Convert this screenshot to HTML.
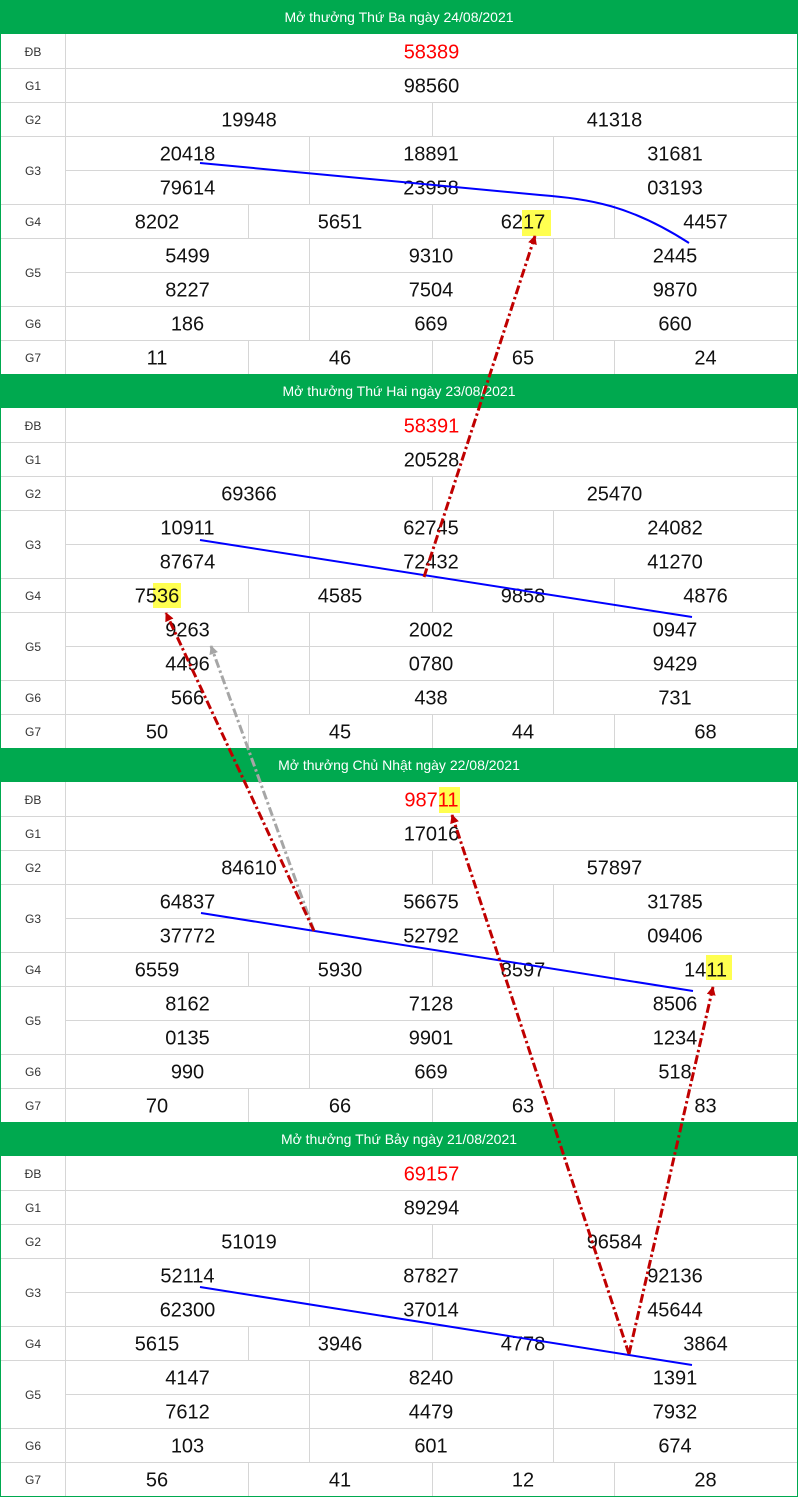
<!DOCTYPE html>
<html>
<head>
<meta charset="utf-8">
<style>
html,body{margin:0;padding:0;background:#fff;}
svg{display:block;}
.h{font-family:"Liberation Sans",sans-serif;font-size:14px;fill:#fff;text-anchor:middle;}
.l{font-family:"Liberation Sans",sans-serif;font-size:12px;fill:#333;text-anchor:middle;}
.n{font-family:"Liberation Sans",sans-serif;font-size:20px;fill:#111;text-anchor:middle;}
.r{fill:#f00;}
.g{fill:none;stroke:#d6d6d6;stroke-width:1;shape-rendering:crispEdges;}
</style>
</head>
<body>
<svg width="798" height="1497" viewBox="0 0 798 1497" xmlns="http://www.w3.org/2000/svg">
<defs>
<g id="grid">
<rect x="0" y="0" width="798" height="34" fill="#00a94f"/>
<path class="g" d="M1 68.5H797 M1 102.5H797 M1 136.5H797 M66 170.5H797 M1 204.5H797 M1 238.5H797 M66 272.5H797 M1 306.5H797 M1 340.5H797 M65.5 34V374 M432.5 102V136 M309.5 136V204 M553.5 136V204 M248.5 204V238 M432.5 204V238 M614.5 204V238 M309.5 238V340 M553.5 238V340 M248.5 340V374 M432.5 340V374 M614.5 340V374"/>
<text class="l" x="33" y="56">ĐB</text>
<text class="l" x="33" y="90">G1</text>
<text class="l" x="33" y="124">G2</text>
<text class="l" x="33" y="175">G3</text>
<text class="l" x="33" y="226">G4</text>
<text class="l" x="33" y="277">G5</text>
<text class="l" x="33" y="328">G6</text>
<text class="l" x="33" y="362">G7</text>
</g>
<marker id="ar" viewBox="0 0 10 10" refX="9" refY="5" markerWidth="3" markerHeight="3" orient="auto" markerUnits="strokeWidth">
<path d="M0,0 L10,5 L0,10 z" fill="#c00000"/>
</marker>
<marker id="ag" viewBox="0 0 10 10" refX="9" refY="5" markerWidth="3" markerHeight="3" orient="auto" markerUnits="strokeWidth">
<path d="M0,0 L10,5 L0,10 z" fill="#a6a6a6"/>
</marker>
</defs>

<!-- Table 1 -->
<g transform="translate(0,0)">
<use href="#grid"/>
<rect x="522" y="210" width="29" height="26" fill="#ffff50"/>
<text class="h" x="399" y="22">Mở thưởng Thứ Ba ngày 24/08/2021</text>
<text class="n r" x="431.5" y="58.5">58389</text>
<text class="n" x="431.5" y="92.5">98560</text>
<text class="n" x="249" y="126.5">19948</text>
<text class="n" x="614.5" y="126.5">41318</text>
<text class="n" x="187.5" y="160.5">20418</text>
<text class="n" x="431" y="160.5">18891</text>
<text class="n" x="675" y="160.5">31681</text>
<text class="n" x="187.5" y="194.5">79614</text>
<text class="n" x="431" y="194.5">23958</text>
<text class="n" x="675" y="194.5">03193</text>
<text class="n" x="157" y="228.5">8202</text>
<text class="n" x="340" y="228.5">5651</text>
<text class="n" x="523" y="228.5">6217</text>
<text class="n" x="705.5" y="228.5">4457</text>
<text class="n" x="187.5" y="262.5">5499</text>
<text class="n" x="431" y="262.5">9310</text>
<text class="n" x="675" y="262.5">2445</text>
<text class="n" x="187.5" y="296.5">8227</text>
<text class="n" x="431" y="296.5">7504</text>
<text class="n" x="675" y="296.5">9870</text>
<text class="n" x="187.5" y="330.5">186</text>
<text class="n" x="431" y="330.5">669</text>
<text class="n" x="675" y="330.5">660</text>
<text class="n" x="157" y="364.5">11</text>
<text class="n" x="340" y="364.5">46</text>
<text class="n" x="523" y="364.5">65</text>
<text class="n" x="705.5" y="364.5">24</text>
</g>

<!-- Table 2 -->
<g transform="translate(0,374)">
<use href="#grid"/>
<rect x="153" y="209" width="28" height="25" fill="#ffff50"/>
<text class="h" x="399" y="22">Mở thưởng Thứ Hai ngày 23/08/2021</text>
<text class="n r" x="431.5" y="58.5">58391</text>
<text class="n" x="431.5" y="92.5">20528</text>
<text class="n" x="249" y="126.5">69366</text>
<text class="n" x="614.5" y="126.5">25470</text>
<text class="n" x="187.5" y="160.5">10911</text>
<text class="n" x="431" y="160.5">62745</text>
<text class="n" x="675" y="160.5">24082</text>
<text class="n" x="187.5" y="194.5">87674</text>
<text class="n" x="431" y="194.5">72432</text>
<text class="n" x="675" y="194.5">41270</text>
<text class="n" x="157" y="228.5">7536</text>
<text class="n" x="340" y="228.5">4585</text>
<text class="n" x="523" y="228.5">9858</text>
<text class="n" x="705.5" y="228.5">4876</text>
<text class="n" x="187.5" y="262.5">9263</text>
<text class="n" x="431" y="262.5">2002</text>
<text class="n" x="675" y="262.5">0947</text>
<text class="n" x="187.5" y="296.5">4496</text>
<text class="n" x="431" y="296.5">0780</text>
<text class="n" x="675" y="296.5">9429</text>
<text class="n" x="187.5" y="330.5">566</text>
<text class="n" x="431" y="330.5">438</text>
<text class="n" x="675" y="330.5">731</text>
<text class="n" x="157" y="364.5">50</text>
<text class="n" x="340" y="364.5">45</text>
<text class="n" x="523" y="364.5">44</text>
<text class="n" x="705.5" y="364.5">68</text>
</g>

<!-- Table 3 -->
<g transform="translate(0,748)">
<use href="#grid"/>
<rect x="439" y="39" width="21" height="26" fill="#ffff50"/>
<rect x="706" y="207" width="26" height="25" fill="#ffff50"/>
<text class="h" x="399" y="22">Mở thưởng Chủ Nhật ngày 22/08/2021</text>
<text class="n r" x="431.5" y="58.5">98711</text>
<text class="n" x="431.5" y="92.5">17016</text>
<text class="n" x="249" y="126.5">84610</text>
<text class="n" x="614.5" y="126.5">57897</text>
<text class="n" x="187.5" y="160.5">64837</text>
<text class="n" x="431" y="160.5">56675</text>
<text class="n" x="675" y="160.5">31785</text>
<text class="n" x="187.5" y="194.5">37772</text>
<text class="n" x="431" y="194.5">52792</text>
<text class="n" x="675" y="194.5">09406</text>
<text class="n" x="157" y="228.5">6559</text>
<text class="n" x="340" y="228.5">5930</text>
<text class="n" x="523" y="228.5">8597</text>
<text class="n" x="705.5" y="228.5">1411</text>
<text class="n" x="187.5" y="262.5">8162</text>
<text class="n" x="431" y="262.5">7128</text>
<text class="n" x="675" y="262.5">8506</text>
<text class="n" x="187.5" y="296.5">0135</text>
<text class="n" x="431" y="296.5">9901</text>
<text class="n" x="675" y="296.5">1234</text>
<text class="n" x="187.5" y="330.5">990</text>
<text class="n" x="431" y="330.5">669</text>
<text class="n" x="675" y="330.5">518</text>
<text class="n" x="157" y="364.5">70</text>
<text class="n" x="340" y="364.5">66</text>
<text class="n" x="523" y="364.5">63</text>
<text class="n" x="705.5" y="364.5">83</text>
</g>

<!-- Table 4 -->
<g transform="translate(0,1122)">
<use href="#grid"/>
<text class="h" x="399" y="22">Mở thưởng Thứ Bảy ngày 21/08/2021</text>
<text class="n r" x="431.5" y="58.5">69157</text>
<text class="n" x="431.5" y="92.5">89294</text>
<text class="n" x="249" y="126.5">51019</text>
<text class="n" x="614.5" y="126.5">96584</text>
<text class="n" x="187.5" y="160.5">52114</text>
<text class="n" x="431" y="160.5">87827</text>
<text class="n" x="675" y="160.5">92136</text>
<text class="n" x="187.5" y="194.5">62300</text>
<text class="n" x="431" y="194.5">37014</text>
<text class="n" x="675" y="194.5">45644</text>
<text class="n" x="157" y="228.5">5615</text>
<text class="n" x="340" y="228.5">3946</text>
<text class="n" x="523" y="228.5">4778</text>
<text class="n" x="705.5" y="228.5">3864</text>
<text class="n" x="187.5" y="262.5">4147</text>
<text class="n" x="431" y="262.5">8240</text>
<text class="n" x="675" y="262.5">1391</text>
<text class="n" x="187.5" y="296.5">7612</text>
<text class="n" x="431" y="296.5">4479</text>
<text class="n" x="675" y="296.5">7932</text>
<text class="n" x="187.5" y="330.5">103</text>
<text class="n" x="431" y="330.5">601</text>
<text class="n" x="675" y="330.5">674</text>
<text class="n" x="157" y="364.5">56</text>
<text class="n" x="340" y="364.5">41</text>
<text class="n" x="523" y="364.5">12</text>
<text class="n" x="705.5" y="364.5">28</text>
</g>

<!-- outer border -->
<path d="M0.5 0V1497 M797.5 0V1497 M0 1496.5H798" stroke="#00a94f" stroke-width="1" fill="none" shape-rendering="crispEdges"/>

<!-- blue lines -->
<g fill="none" stroke="#0000ff" stroke-width="2">
<path d="M200 163 L540 195 C590 199 630 205 689 243"/>
<path d="M200 540 L692 617"/>
<path d="M201 913 L693 991"/>
<path d="M200 1287 L692 1365"/>
</g>

<!-- dash-dot arrows -->
<g fill="none" stroke-width="3" stroke-dasharray="9 3 2.5 3">
<path d="M424 577 L535 236" stroke="#c00000" marker-end="url(#ar)"/>
<path d="M314 931 L211 646" stroke="#a6a6a6" marker-end="url(#ag)"/>
<path d="M314 931 L166 613" stroke="#c00000" marker-end="url(#ar)"/>
<path d="M629 1354 L452 815" stroke="#c00000" marker-end="url(#ar)"/>
<path d="M629 1354 L713 987" stroke="#c00000" marker-end="url(#ar)"/>
</g>
</svg>
</body>
</html>
